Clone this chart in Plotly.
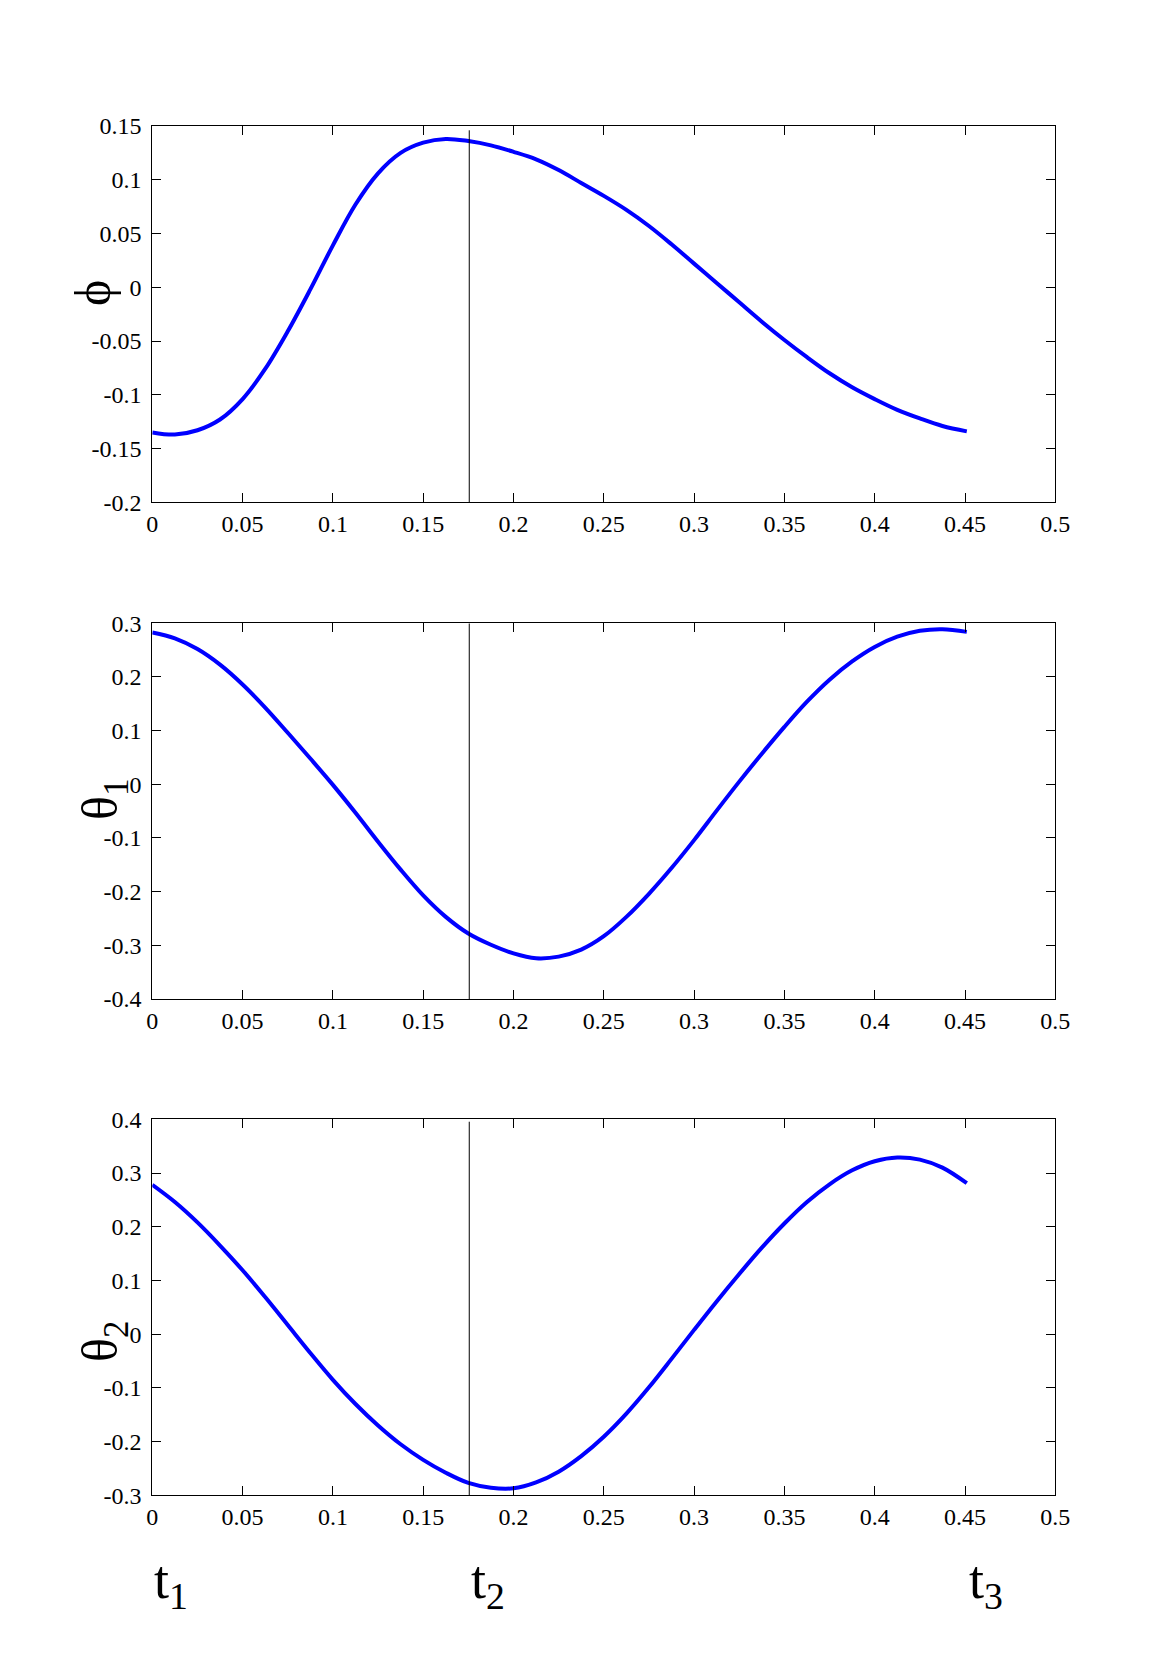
import plotly.graph_objects as go

# --- data -------------------------------------------------------------------
t = [0, 0.0125, 0.025, 0.0375, 0.05, 0.0625, 0.075, 0.0875, 0.1, 0.1125,
     0.125, 0.1375, 0.15, 0.1625, 0.175, 0.1875, 0.2, 0.2125, 0.225, 0.2375,
     0.25, 0.2625, 0.275, 0.2875, 0.3, 0.3125, 0.325, 0.3375, 0.35, 0.3625,
     0.375, 0.3875, 0.4, 0.4125, 0.425, 0.4375, 0.451]

phi = [-0.135, -0.137, -0.133, -0.123, -0.104, -0.076, -0.041, -0.002, 0.039, 0.077,
       0.106, 0.125, 0.1345, 0.138, 0.136, 0.132, 0.126, 0.119, 0.109, 0.097,
       0.085, 0.072, 0.057, 0.040, 0.022, 0.004, -0.014, -0.032, -0.049, -0.065,
       -0.080, -0.093, -0.104, -0.114, -0.122, -0.129, -0.134]

theta1 = [0.283, 0.272, 0.252, 0.223, 0.186, 0.143, 0.096, 0.048, -0.001, -0.053,
          -0.107, -0.159, -0.207, -0.247, -0.278, -0.299, -0.315, -0.324, -0.321, -0.308,
          -0.283, -0.247, -0.204, -0.156, -0.104, -0.049, 0.005, 0.057, 0.107, 0.154,
          0.195, 0.229, 0.256, 0.275, 0.286, 0.289, 0.284]

theta2 = [0.278, 0.246, 0.208, 0.165, 0.119, 0.069, 0.017, -0.035, -0.085, -0.130,
          -0.170, -0.205, -0.234, -0.258, -0.277, -0.286, -0.287, -0.276, -0.256, -0.227,
          -0.191, -0.148, -0.099, -0.046, 0.008, 0.061, 0.112, 0.161, 0.206, 0.246,
          0.279, 0.305, 0.322, 0.329, 0.325, 0.310, 0.281]

t_marks = [0, 0.1755, 0.451]
t_names = ["t<sub>1</sub>", "t<sub>2</sub>", "t<sub>3</sub>"]

x_ticks = [0, 0.05, 0.1, 0.15, 0.2, 0.25, 0.3, 0.35, 0.4, 0.45, 0.5]
x_ticktext = ["0", "0.05", "0.1", "0.15", "0.2", "0.25", "0.3", "0.35", "0.4", "0.45", "0.5"]
phi_ticks = [-0.2, -0.15, -0.1, -0.05, 0, 0.05, 0.1, 0.15]
phi_ticktext = ["-0.2", "-0.15", "-0.1", "-0.05", "0", "0.05", "0.1", "0.15"]
th1_ticks = [-0.4, -0.3, -0.2, -0.1, 0, 0.1, 0.2, 0.3]
th1_ticktext = ["-0.4", "-0.3", "-0.2", "-0.1", "0", "0.1", "0.2", "0.3"]
th2_ticks = [-0.3, -0.2, -0.1, 0, 0.1, 0.2, 0.3, 0.4]
th2_ticktext = ["-0.3", "-0.2", "-0.1", "0", "0.1", "0.2", "0.3", "0.4"]

y_labels = ["\u03d5", "\u03b8<sub>1</sub>", "\u03b8<sub>2</sub>"]
y_ranges = [[-0.2, 0.15], [-0.4, 0.3], [-0.3, 0.4]]
vline_top = [0.146, 0.3, 0.3955]

# --- geometry (page pixels of the reference; body has an 8px margin) --------
PAGE_W, PAGE_H, BODY = 1166, 1680, 8
W, H = PAGE_W - 2 * BODY, PAGE_H - 2 * BODY
FONT = "Liberation Serif, Times New Roman, serif"


def px(x):
    return (x - BODY) / W


def py(y):
    return (H - (y - BODY)) / H


x_dom = [px(152.3), px(1055.3)]
panel_px = [(126, 502.3), (623.3, 999), (1119.3, 1495.3)]
y_doms = [[py(b), py(t_)] for t_, b in panel_px]
label_pos = [(93, 293), (104, 800), (104, 1342)]

fig = go.Figure()
series = [phi, theta1, theta2]
yticks = [(phi_ticks, phi_ticktext), (th1_ticks, th1_ticktext), (th2_ticks, th2_ticktext)]
layout = {}
shapes = []
annotations = []
for i, vals in enumerate(series):
    n = "" if i == 0 else str(i + 1)
    fig.add_trace(go.Scatter(x=t, y=vals, mode="lines",
                             line=dict(color="#0000ff", width=4, shape="spline", smoothing=1),
                             xaxis="x" + n, yaxis="y" + n, showlegend=False))
    axis_common = dict(showline=True, linecolor="black", linewidth=1, mirror="ticks",
                       ticks="inside", ticklen=9, tickcolor="black", showgrid=False,
                       zeroline=False, automargin=False,
                       tickfont=dict(family=FONT, size=24, color="black"))
    layout["xaxis" + n] = dict(axis_common, domain=x_dom, range=[0, 0.5],
                               tickmode="array", tickvals=x_ticks, ticktext=x_ticktext,
                               anchor="y" + n)
    layout["yaxis" + n] = dict(axis_common, domain=y_doms[i], range=y_ranges[i],
                               tickmode="array", tickvals=yticks[i][0], ticktext=yticks[i][1],
                               ticklabelstandoff=5, anchor="x" + n)
    shapes.append(dict(type="line", xref="x" + n, yref="y" + n, x0=t_marks[1], x1=t_marks[1],
                       y0=y_ranges[i][0], y1=vline_top[i], line=dict(color="black", width=1)))
    lx, ly = label_pos[i]
    annotations.append(dict(text=y_labels[i], xref="paper", yref="paper", x=px(lx), y=py(ly),
                            xanchor="center", yanchor="middle", textangle=-90, showarrow=False,
                            font=dict(family=FONT, size=50, color="black")))

for tm, name in zip(t_marks, t_names):
    annotations.append(dict(text=name, xref="x3", yref="paper", x=tm, y=py(1548),
                            xanchor="left", yanchor="top", showarrow=False,
                            font=dict(family=FONT, size=54, color="black")))

fig.update_layout(width=W, height=H, margin=dict(l=0, r=0, t=0, b=0),
                  paper_bgcolor="white", plot_bgcolor="white",
                  shapes=shapes, annotations=annotations, **layout)

fig.write_html("out.html")
